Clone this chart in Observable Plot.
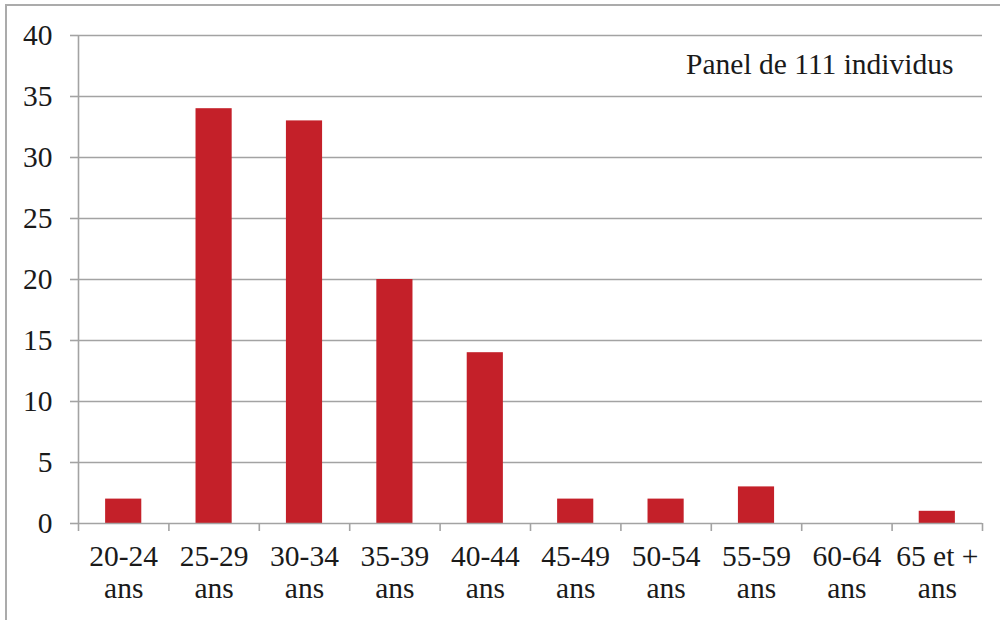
<!DOCTYPE html>
<html>
<head>
<meta charset="utf-8">
<script src="https://cdn.jsdelivr.net/npm/d3@7"></script>
<script src="https://cdn.jsdelivr.net/npm/@observablehq/plot@0.6"></script>
<style>
  html, body { margin: 0; padding: 0; background: #fff; }
  #wrap { position: relative; width: 1000px; height: 620px; overflow: hidden; }
  #border { position: absolute; left: 5px; top: 4px; right: -10px; bottom: -10px;
            border-left: 2px solid #ababab; border-top: 2px solid #ababab; pointer-events: none; }
  svg { font-family: "Liberation Serif", "Times New Roman", serif; }
</style>
</head>
<body>
<div id="wrap"><div id="border"></div></div>
<script>
const categories = ["20-24\nans", "25-29\nans", "30-34\nans", "35-39\nans", "40-44\nans",
                    "45-49\nans", "50-54\nans", "55-59\nans", "60-64\nans", "65 et +\nans"];
const values = [2, 34, 33, 20, 14, 2, 2, 3, 0, 1];
const yTicks = [0, 5, 10, 15, 20, 25, 30, 35, 40];
const note = "Panel de 111 individus";

const data = categories.map((c, i) => ({i, label: c, value: values[i]}));
const grid = "#a3a3a3";
const fs = 29.5;

const chart = Plot.plot({
  width: 1000,
  height: 620,
  marginLeft: 78,
  marginRight: 18,
  marginTop: 35,
  marginBottom: 97,
  style: {fontFamily: "'Liberation Serif', 'Times New Roman', serif", fontSize: fs + "px", color: "#1a1a1a", background: "transparent"},
  x: {type: "linear", domain: [0, categories.length], axis: null},
  y: {type: "linear", domain: [0, 40], axis: null},
  marks: [
    Plot.ruleY(yTicks.slice(1), {stroke: grid, strokeWidth: 1.6}),
    Plot.rectY(data, {x1: d => d.i + 0.3, x2: d => d.i + 0.7, y1: 0, y2: "value", fill: "#c42029"}),
    Plot.ruleX([0], {y1: 0, y2: 40, stroke: grid, strokeWidth: 1.6}),
    Plot.ruleY([0], {stroke: grid, strokeWidth: 1.6}),
    Plot.ruleY(yTicks, {y: d => d, stroke: grid, strokeWidth: 1.6, render: (index, scales, values, dims, ctx, next) => {
      const g = next(index, scales, values, dims, ctx);
      d3.select(g).selectAll("line").attr("x1", dims.marginLeft - 8).attr("x2", dims.marginLeft);
      return g;
    }}),
    Plot.text(yTicks, {x: 0, y: d => d, text: d => String(d), textAnchor: "end", dx: -26, fontSize: fs, fill: "#1a1a1a"}),
    Plot.ruleX(d3.range(categories.length + 1), {x: d => d, stroke: grid, strokeWidth: 1.6, render: (index, scales, values, dims, ctx, next) => {
      const g = next(index, scales, values, dims, ctx);
      const y0 = dims.height - dims.marginBottom;
      d3.select(g).selectAll("line").attr("y1", y0).attr("y2", y0 + 8);
      return g;
    }}),
    Plot.text(data, {x: d => d.i + 0.5, y: 0, text: "label", lineAnchor: "top", dy: 19, lineHeight: 1.1, fontSize: fs, fill: "#1a1a1a"}),
    Plot.text([note], {frameAnchor: "top-right", textAnchor: "end", lineAnchor: "middle", dx: -29, dy: 29, fontSize: fs, fill: "#1a1a1a"})
  ]
});
document.getElementById("wrap").appendChild(chart);
chart.style.position = "absolute";
chart.style.left = "0";
chart.style.top = "0";
</script>
</body>
</html>
